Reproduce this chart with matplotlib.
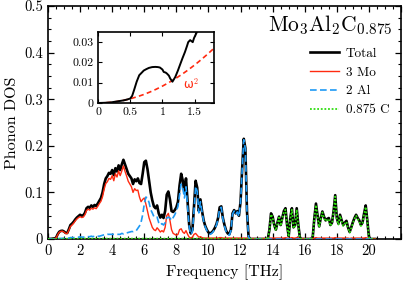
import numpy as np
import matplotlib
matplotlib.use("Agg")
import matplotlib.pyplot as plt
from matplotlib.ticker import MultipleLocator, FuncFormatter

plt.rcParams['font.family'] = 'serif'
plt.rcParams['font.serif'] = ['cmr10', 'DejaVu Serif']
plt.rcParams['mathtext.fontset'] = 'cm'
plt.rcParams['axes.formatter.use_mathtext'] = True

# frequency grid (THz), step 0.1 from 0 to 20.4
freq = np.round(np.arange(0, 205) * 0.1, 1)

total = [
    0, 0.0001, 0.0003, 0.0008, 0.0013, 0.0025, 0.010, 0.0155, 0.0173, 0.0178,
    0.016, 0.013, 0.0129, 0.021, 0.030, 0.033, 0.037, 0.042, 0.046, 0.049,
    0.052, 0.050, 0.051, 0.056, 0.066, 0.069, 0.067, 0.072, 0.069, 0.073,
    0.071, 0.076, 0.082, 0.088, 0.100, 0.118, 0.130, 0.135, 0.142, 0.140,
    0.148, 0.137, 0.152, 0.145, 0.158, 0.148, 0.160, 0.170, 0.160, 0.150,
    0.140, 0.135, 0.130, 0.118, 0.128, 0.124, 0.130, 0.120, 0.118, 0.140,
    0.165, 0.168, 0.150, 0.125, 0.100, 0.083, 0.070, 0.066, 0.072, 0.055,
    0.046, 0.052, 0.045, 0.060, 0.095, 0.102, 0.085, 0.060, 0.058, 0.062,
    0.068, 0.080, 0.115, 0.140, 0.125, 0.100, 0.130, 0.080, 0.030, 0.012,
    0.020, 0.070, 0.125, 0.110, 0.060, 0.085, 0.060, 0.040, 0.028, 0.020,
    0.014, 0.012, 0.014, 0.018, 0.024, 0.032, 0.045, 0.068, 0.070, 0.045,
    0.030, 0.018, 0.012, 0.010, 0.020, 0.055, 0.062, 0.055, 0.060, 0.050,
    0.080, 0.150, 0.215, 0.195, 0.060, 0.005, 0, 0, 0, 0,
    0, 0, 0, 0, 0, 0, 0, 0, 0.020, 0.055,
    0.048, 0.030, 0.020, 0.035, 0.048, 0.030, 0.045, 0.060, 0.066, 0.030,
    0.006, 0.045, 0.066, 0.025, 0.030, 0.066, 0.030, 0.003, 0, 0,
    0, 0, 0, 0, 0, 0.005, 0.045, 0.076, 0.050, 0.027,
    0.045, 0.059, 0.048, 0.040, 0.043, 0.045, 0.030, 0.035, 0.060, 0.094,
    0.045, 0.033, 0.052, 0.040, 0.030, 0.035, 0.039, 0.025, 0.015, 0.025,
    0.036, 0.045, 0.052, 0.045, 0.040, 0.030, 0.035, 0.055, 0.072, 0.040,
    0.005, 0, 0, 0, 0,
]

mo = [
    0, 0.0001, 0.0003, 0.0007, 0.0011, 0.002, 0.009, 0.0145, 0.0165, 0.0168,
    0.0148, 0.0118, 0.0117, 0.019, 0.027, 0.030, 0.034, 0.039, 0.043, 0.046,
    0.048, 0.046, 0.047, 0.052, 0.061, 0.064, 0.062, 0.066, 0.064, 0.067,
    0.065, 0.070, 0.076, 0.081, 0.091, 0.107, 0.119, 0.123, 0.130, 0.128,
    0.136, 0.125, 0.140, 0.133, 0.146, 0.136, 0.146, 0.157, 0.145, 0.135,
    0.124, 0.118, 0.112, 0.100, 0.108, 0.104, 0.105, 0.090, 0.080, 0.085,
    0.088, 0.075, 0.060, 0.045, 0.035, 0.025, 0.020, 0.018, 0.024, 0.020,
    0.015, 0.018, 0.015, 0.025, 0.050, 0.055, 0.040, 0.020, 0.012, 0.010,
    0.008, 0.010, 0.020, 0.022, 0.015, 0.012, 0.018, 0.010, 0.004, 0.002,
    0.004, 0.010, 0.012, 0.008, 0.004, 0.005, 0.003, 0.002, 0.002, 0.002,
    0.002, 0.002, 0.002, 0.002, 0.002, 0.002, 0.002, 0.003, 0.003, 0.002,
    0.002, 0.002, 0.002, 0.002, 0.002, 0.002, 0.002, 0.002, 0.002, 0.002,
    0.002, 0.002, 0.002, 0.002, 0.002, 0.001, 0.001, 0.001, 0.001, 0.001,
    0.001, 0.001, 0.001, 0.001, 0.001, 0.001, 0.001, 0.001, 0.002, 0.002,
    0.002, 0.002, 0.002, 0.002, 0.002, 0.002, 0.002, 0.002, 0.003, 0.002,
    0.001, 0.002, 0.003, 0.002, 0.002, 0.003, 0.002, 0.001, 0.001, 0.001,
    0.001, 0.001, 0.001, 0.001, 0.001, 0.001, 0.002, 0.003, 0.002, 0.002,
    0.002, 0.002, 0.002, 0.002, 0.002, 0.002, 0.002, 0.002, 0.002, 0.003,
    0.002, 0.002, 0.002, 0.002, 0.002, 0.002, 0.002, 0.002, 0.001, 0.002,
    0.002, 0.002, 0.002, 0.002, 0.002, 0.002, 0.002, 0.002, 0.003, 0.002,
    0.001, 0, 0, 0, 0,
]

al = [
    0, 0, 0, 0.0001, 0.0002, 0.0004, 0.0008, 0.001, 0.0012, 0.0015,
    0.0015, 0.0016, 0.0016, 0.002, 0.003, 0.003, 0.003, 0.0035, 0.004, 0.004,
    0.0045, 0.004, 0.004, 0.0045, 0.005, 0.005, 0.005, 0.006, 0.005, 0.006,
    0.006, 0.006, 0.006, 0.007, 0.008, 0.009, 0.009, 0.010, 0.010, 0.010,
    0.010, 0.010, 0.010, 0.010, 0.010, 0.010, 0.012, 0.011, 0.013, 0.013,
    0.014, 0.015, 0.016, 0.016, 0.018, 0.018, 0.023, 0.028, 0.036, 0.052,
    0.075, 0.090, 0.088, 0.078, 0.063, 0.056, 0.048, 0.046, 0.047, 0.035,
    0.030, 0.033, 0.030, 0.035, 0.045, 0.047, 0.045, 0.040, 0.046, 0.052,
    0.060, 0.070, 0.095, 0.118, 0.110, 0.088, 0.112, 0.070, 0.026, 0.010,
    0.016, 0.060, 0.113, 0.102, 0.056, 0.080, 0.057, 0.038, 0.026, 0.018,
    0.012, 0.010, 0.012, 0.016, 0.022, 0.030, 0.043, 0.066, 0.068, 0.043,
    0.028, 0.016, 0.010, 0.008, 0.018, 0.053, 0.060, 0.053, 0.058, 0.048,
    0.078, 0.148, 0.213, 0.193, 0.058, 0.004, 0, 0, 0, 0,
    0, 0, 0, 0, 0, 0, 0, 0, 0, 0,
    0, 0, 0, 0, 0, 0, 0, 0, 0, 0,
    0, 0, 0, 0, 0, 0, 0, 0, 0, 0,
    0, 0, 0, 0, 0, 0, 0, 0, 0, 0,
    0, 0, 0, 0, 0, 0, 0, 0, 0, 0,
    0, 0, 0, 0, 0, 0, 0, 0, 0, 0,
    0, 0, 0, 0, 0, 0, 0, 0, 0, 0,
    0, 0, 0, 0, 0,
]

c = [
    0, 0, 0, 0, 0, 0, 0.0005, 0.0005, 0.0005, 0.0005,
    0.0005, 0.0005, 0.0005, 0.0005, 0.0005, 0.0005, 0.0005, 0.0005, 0.0005, 0.0005,
    0.0008, 0.0008, 0.0008, 0.0008, 0.0008, 0.0008, 0.0008, 0.0008, 0.0008, 0.0008,
    0.0008, 0.0008, 0.0008, 0.0008, 0.0008, 0.0008, 0.0008, 0.0008, 0.0008, 0.0008,
    0.0008, 0.0008, 0.0008, 0.0008, 0.0008, 0.0008, 0.0008, 0.0008, 0.0008, 0.0008,
    0.0008, 0.0008, 0.0008, 0.0008, 0.0008, 0.0008, 0.0008, 0.0008, 0.0008, 0.0008,
    0.0008, 0.0008, 0.0008, 0.0008, 0.0008, 0.0008, 0.0008, 0.0008, 0.0008, 0.0008,
    0.0008, 0.0008, 0.0008, 0.0008, 0.0008, 0.0008, 0.0008, 0.0008, 0.0008, 0.0008,
    0.0008, 0.0008, 0.0008, 0.0008, 0.0008, 0.0008, 0.0008, 0.0008, 0.0008, 0.0008,
    0.0008, 0.0008, 0.0008, 0.0008, 0.0008, 0.0008, 0.0008, 0.0008, 0.0008, 0.0008,
    0.0005, 0.0005, 0.0005, 0.0005, 0.0005, 0.0005, 0.0005, 0.0005, 0.0005, 0.0005,
    0.0005, 0.0005, 0.0005, 0.0005, 0.0005, 0.0005, 0.0005, 0.0005, 0.0005, 0.0005,
    0.0005, 0.0005, 0.0005, 0.0005, 0.0005, 0, 0, 0, 0, 0,
    0, 0, 0, 0, 0, 0, 0, 0, 0.018, 0.053,
    0.046, 0.028, 0.018, 0.033, 0.046, 0.028, 0.043, 0.058, 0.063, 0.028,
    0.005, 0.043, 0.063, 0.023, 0.028, 0.063, 0.028, 0.002, 0, 0,
    0, 0, 0, 0, 0, 0.004, 0.043, 0.073, 0.048, 0.025,
    0.043, 0.057, 0.046, 0.038, 0.041, 0.043, 0.028, 0.033, 0.058, 0.091,
    0.043, 0.031, 0.050, 0.038, 0.028, 0.033, 0.037, 0.023, 0.014, 0.023,
    0.034, 0.043, 0.050, 0.043, 0.038, 0.028, 0.033, 0.053, 0.069, 0.038,
    0.004, 0, 0, 0, 0,
]

# inset data (low-frequency total DOS and omega^2 reference)
inset_freq = [0, 0.1, 0.2, 0.3, 0.4, 0.45, 0.5, 0.53, 0.56, 0.6, 0.64, 0.68, 0.71,
              0.75, 0.79, 0.84, 0.89, 0.93, 0.96, 1.0, 1.02, 1.05, 1.07, 1.1,
              1.12, 1.155, 1.18, 1.2, 1.24, 1.27, 1.31, 1.35, 1.38, 1.40, 1.43,
              1.47, 1.49, 1.52, 1.55, 1.6]
inset_total = [0, 0.0001, 0.0003, 0.0008, 0.0013, 0.0017, 0.0022, 0.0035, 0.0064, 0.0105,
               0.0137, 0.0150, 0.0160, 0.0167, 0.0173, 0.0177, 0.0178, 0.0177, 0.0175, 0.0165,
               0.0153, 0.0150, 0.0145, 0.0135, 0.0121, 0.0105, 0.0118, 0.0129, 0.0160, 0.0186,
               0.0220, 0.0252, 0.0280, 0.0300, 0.0310, 0.0300, 0.0320, 0.0340, 0.0360, 0.0380]
omega_f = [0, 0.1, 0.2, 0.3, 0.4, 0.5, 0.6, 0.7, 0.8, 0.9, 1.0, 1.1, 1.2, 1.3, 1.4,
           1.5, 1.6, 1.7, 1.8]
omega_sq = [0, 0.00008, 0.00033, 0.00075, 0.00133, 0.00208, 0.0030, 0.00408, 0.00533,
            0.00675, 0.00833, 0.01008, 0.0120, 0.01408, 0.01633, 0.01875, 0.02133,
            0.02408, 0.0270]

labels = ['Total', '3 Mo', '2 Al', '0.875 C']
RED = '#ff2a10'
BLUE = '#1e9af5'
GREEN = '#2fdd10'

fig = plt.figure(figsize=(4.07, 2.87), dpi=100)
ax = fig.add_axes([48/407, (287-239)/287, 353/407, 233/287])

ax.plot(freq, total, color='black', lw=1.9, label=labels[0], zorder=2)
ax.plot(freq, mo, color=RED, lw=1.0, label=labels[1], zorder=3)
ax.plot(freq, al, color=BLUE, lw=1.2, ls=(0, (4, 2)), label=labels[2], zorder=4)
ax.plot(freq, c, color=GREEN, lw=1.3, ls=(0, (1, 1)), label=labels[3], zorder=5)

ax.set_xlim(0, 22)
ax.set_ylim(0, 0.5)
ax.xaxis.set_major_locator(MultipleLocator(2))
ax.xaxis.set_minor_locator(MultipleLocator(0.5))
ax.yaxis.set_major_locator(MultipleLocator(0.1))
ax.yaxis.set_minor_locator(MultipleLocator(0.025))
ax.xaxis.set_major_formatter(FuncFormatter(lambda v, p: f'{v:g}' if v <= 20 else ''))
ax.yaxis.set_major_formatter(FuncFormatter(lambda v, p: f'{v:g}'))
ax.tick_params(which='both', direction='in', top=True, right=True, labelsize=10.5)
ax.tick_params(which='major', length=4, width=0.9)
ax.tick_params(which='minor', length=2, width=0.8)
for s in ax.spines.values():
    s.set_linewidth(1.2)
ax.set_xlabel('Frequency [THz]', fontsize=11.5, labelpad=5)
ax.set_ylabel('Phonon DOS', fontsize=11.5, labelpad=4)

ax.text(0.977, 0.918, r'$\mathrm{Mo_3Al_2C_{0.875}}$', transform=ax.transAxes,
        ha='right', va='center', fontsize=15.5)
leg = ax.legend(loc='upper left', bbox_to_anchor=(0.742, 0.822), frameon=False,
                fontsize=9.5, handlelength=2.2, handletextpad=0.5, labelspacing=0.5,
                borderpad=0, borderaxespad=0)

ins = fig.add_axes([98/407, (287-103)/287, 116/407, 71/287])
ins.plot(omega_f, omega_sq, color=RED, lw=1.2, ls=(0, (3, 2)))
ins.plot(inset_freq, inset_total, color='black', lw=1.4)
ins.set_xlim(0, 1.8)
ins.set_ylim(0, 0.035)
ins.xaxis.set_major_locator(MultipleLocator(0.5))
ins.yaxis.set_major_locator(MultipleLocator(0.01))
ins.xaxis.set_major_formatter(FuncFormatter(lambda v, p: f'{v:g}'))
ins.yaxis.set_major_formatter(FuncFormatter(lambda v, p: f'{v:g}'))
ins.tick_params(which='both', direction='in', top=True, right=True, labelsize=8.5, length=3)
for s in ins.spines.values():
    s.set_linewidth(1.2)
ins.text(1.44, 0.0095, r'ω$^2$', color=RED, fontsize=8.5, family='DejaVu Sans',
         ha='center', va='center')

fig.savefig('out.png', dpi=100)
